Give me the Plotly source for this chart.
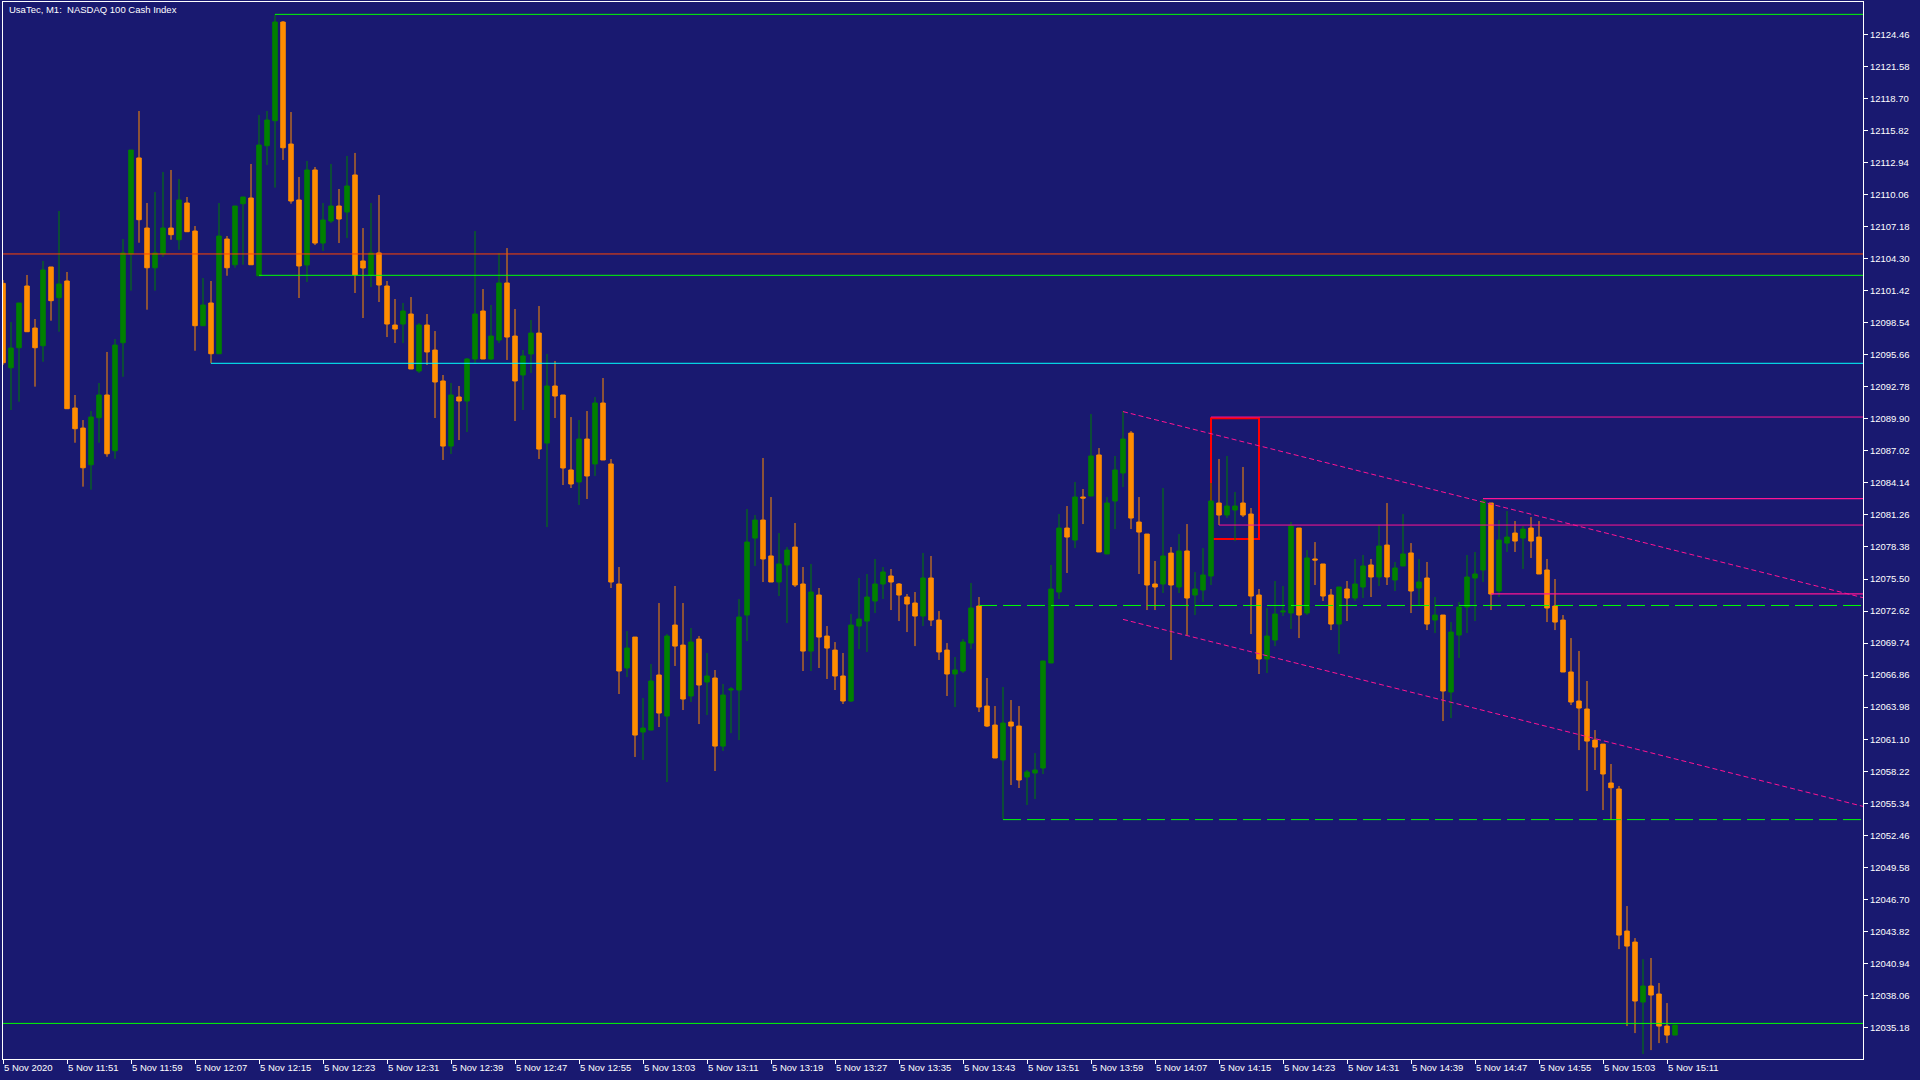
import plotly.graph_objects as go

TITLE = "UsaTec, M1:  NASDAQ 100 Cash Index"

OPEN = [
    12102.08, 12094.49, 12096.29, 12101.84, 12098.06, 12096.47, 12103.55, 12100.79, 12102.29, 12090.87,
    12089.07, 12085.77, 12090.00, 12092.04, 12087.03, 12096.74, 12104.72, 12113.35, 12107.05, 12103.48,
    12104.74, 12107.05, 12106.00, 12109.30, 12106.78, 12098.27, 12100.31, 12095.75, 12106.06, 12103.75,
    12109.24, 12109.75, 12102.76, 12114.45, 12116.70, 12125.57, 12114.60, 12109.57, 12103.73, 12112.27,
    12105.70, 12107.68, 12109.03, 12108.49, 12111.82, 12104.09, 12102.83, 12104.81, 12101.84, 12098.33,
    12098.42, 12099.32, 12094.20, 12098.33, 12096.08, 12093.30, 12087.45, 12091.86, 12091.50, 12095.28,
    12099.59, 12095.28, 12096.98, 12102.11, 12097.34, 12093.84, 12095.73, 12097.61, 12087.72, 12092.85,
    12092.04, 12085.30, 12084.22, 12088.08, 12085.84, 12091.32, 12085.84, 12075.05, 12067.50, 12070.28,
    12061.74, 12061.92, 12066.87, 12063.18, 12071.36, 12069.56, 12064.98, 12070.10, 12066.24, 12066.60,
    12060.48, 12065.52, 12065.52, 12072.26, 12079.18, 12080.80, 12077.57, 12075.23, 12076.76, 12078.37,
    12075.05, 12069.02, 12074.06, 12070.37, 12069.11, 12066.78, 12064.53, 12071.27, 12071.72, 12073.52,
    12075.05, 12075.77, 12075.05, 12073.88, 12073.34, 12072.17, 12075.59, 12071.81, 12069.11, 12066.96,
    12067.23, 12069.74, 12073.07, 12064.08, 12062.37, 12059.23, 12062.64, 12062.28, 12057.70, 12058.06,
    12058.51, 12067.95, 12074.33, 12080.08, 12079.00, 12082.87, 12082.96, 12086.65, 12077.75, 12082.51,
    12085.03, 12088.62, 12080.62, 12079.54, 12075.05, 12075.05, 12077.83, 12074.78, 12078.02, 12074.06,
    12074.51, 12075.77, 12082.33, 12081.25, 12081.70, 12082.33, 12081.34, 12074.06, 12068.31, 12070.01,
    12072.53, 12072.44, 12080.08, 12072.44, 12077.30, 12076.85, 12074.06, 12071.45, 12074.60, 12073.79,
    12074.78, 12076.76, 12075.68, 12078.55, 12075.41, 12076.67, 12077.84, 12074.69, 12075.59, 12071.81,
    12072.26, 12065.34, 12070.46, 12072.98, 12075.59, 12076.31, 12082.33, 12074.42, 12078.73, 12079.63,
    12079.18, 12080.08, 12079.27, 12076.31, 12073.07, 12071.81, 12067.14, 12064.53, 12063.81, 12061.02,
    12060.66, 12057.16, 12056.62, 12043.85, 12042.86, 12037.47, 12038.91, 12038.19, 12035.31, 12034.50,
]

HIGH = [
    12102.38, 12098.60, 12100.31, 12102.83, 12098.87, 12104.09, 12103.55, 12108.58, 12103.10, 12092.04,
    12089.79, 12090.60, 12093.12, 12095.91, 12097.07, 12106.06, 12114.06, 12117.57, 12109.30, 12110.29,
    12112.09, 12112.27, 12111.46, 12109.84, 12107.23, 12102.56, 12102.29, 12109.30, 12106.33, 12109.03,
    12109.84, 12112.81, 12117.21, 12117.57, 12126.26, 12125.66, 12117.48, 12111.64, 12113.08, 12112.54,
    12109.30, 12112.81, 12110.56, 12113.53, 12113.80, 12107.05, 12109.30, 12110.02, 12102.29, 12100.67,
    12100.31, 12100.85, 12098.51, 12099.32, 12097.79, 12093.84, 12093.12, 12092.85, 12095.37, 12106.78,
    12101.57, 12100.13, 12104.81, 12105.25, 12099.77, 12096.08, 12098.78, 12100.04, 12095.73, 12095.10,
    12092.04, 12090.06, 12089.79, 12090.60, 12091.86, 12093.57, 12086.29, 12076.58, 12070.82, 12070.28,
    12064.80, 12067.86, 12073.34, 12070.55, 12074.87, 12073.34, 12071.09, 12070.37, 12068.85, 12067.32,
    12066.06, 12065.79, 12073.70, 12081.79, 12081.25, 12086.38, 12082.87, 12079.63, 12078.37, 12080.53,
    12076.58, 12076.85, 12074.69, 12071.27, 12069.83, 12068.85, 12072.35, 12075.59, 12075.95, 12077.30,
    12076.58, 12076.40, 12075.14, 12074.15, 12074.33, 12077.84, 12077.57, 12072.62, 12069.74, 12068.49,
    12070.10, 12075.14, 12073.88, 12066.60, 12064.08, 12065.79, 12064.62, 12064.08, 12058.33, 12059.85,
    12068.13, 12076.76, 12081.34, 12082.06, 12084.22, 12083.59, 12090.33, 12087.27, 12082.87, 12086.56,
    12090.60, 12088.80, 12082.87, 12079.54, 12077.12, 12083.68, 12078.37, 12079.54, 12080.44, 12076.13,
    12078.28, 12084.13, 12086.29, 12086.56, 12083.32, 12085.57, 12081.88, 12074.60, 12072.89, 12075.32,
    12074.87, 12080.62, 12080.08, 12078.10, 12078.82, 12076.85, 12074.60, 12074.78, 12075.32, 12077.30,
    12077.66, 12077.30, 12080.35, 12082.33, 12077.03, 12081.34, 12078.73, 12077.30, 12077.03, 12073.88,
    12072.26, 12071.63, 12073.43, 12077.66, 12077.93, 12082.69, 12082.33, 12080.80, 12081.61, 12080.71,
    12080.26, 12081.07, 12080.71, 12077.30, 12075.50, 12072.26, 12070.19, 12069.03, 12066.33, 12061.92,
    12060.66, 12058.87, 12056.89, 12046.10, 12043.22, 12041.33, 12041.43, 12039.18, 12037.38, 12035.40,
]

LOW = [
    12094.74, 12090.69, 12091.44, 12097.73, 12092.79, 12095.03, 12098.72, 12097.73, 12090.81, 12087.75,
    12083.80, 12083.53, 12087.75, 12086.49, 12086.31, 12093.68, 12101.42, 12105.73, 12099.71, 12101.42,
    12104.47, 12106.00, 12105.10, 12106.72, 12096.02, 12098.27, 12094.89, 12095.75, 12102.76, 12103.48,
    12103.75, 12103.75, 12102.76, 12112.72, 12110.68, 12113.17, 12109.24, 12100.76, 12102.20, 12105.52,
    12104.99, 12107.50, 12105.70, 12106.15, 12101.21, 12098.96, 12101.75, 12100.40, 12097.25, 12096.71,
    12096.71, 12094.38, 12094.02, 12094.74, 12089.97, 12086.20, 12086.74, 12087.99, 12088.71, 12094.92,
    12095.28, 12095.19, 12096.71, 12095.19, 12089.70, 12090.69, 12094.02, 12086.29, 12080.17, 12089.97,
    12083.95, 12083.68, 12082.15, 12082.69, 12084.76, 12086.20, 12074.69, 12065.16, 12066.69, 12059.50,
    12059.23, 12061.92, 12062.19, 12057.25, 12067.68, 12063.72, 12064.44, 12062.46, 12063.27, 12058.24,
    12060.04, 12061.65, 12061.02, 12069.92, 12076.67, 12075.23, 12075.23, 12073.97, 12071.54, 12074.78,
    12067.23, 12067.23, 12067.50, 12066.51, 12065.52, 12064.26, 12064.44, 12069.20, 12068.94, 12072.44,
    12073.70, 12072.71, 12071.72, 12070.73, 12069.47, 12071.27, 12071.27, 12068.22, 12064.98, 12063.99,
    12067.05, 12069.20, 12063.54, 12062.19, 12059.41, 12053.92, 12056.98, 12056.71, 12055.18, 12055.72,
    12057.97, 12067.95, 12073.70, 12076.04, 12078.28, 12080.44, 12082.96, 12077.93, 12077.75, 12079.99,
    12083.77, 12079.99, 12075.95, 12072.71, 12072.71, 12074.24, 12068.22, 12074.24, 12070.46, 12072.26,
    12073.43, 12074.96, 12080.35, 12080.98, 12078.91, 12081.07, 12070.55, 12066.96, 12067.05, 12069.47,
    12072.17, 12071.00, 12070.19, 12072.26, 12074.96, 12073.52, 12070.91, 12068.76, 12071.72, 12073.52,
    12073.79, 12073.88, 12074.87, 12074.96, 12074.42, 12076.67, 12072.44, 12073.16, 12070.91, 12070.64,
    12062.73, 12063.00, 12068.40, 12070.64, 12071.72, 12075.23, 12072.71, 12073.88, 12077.93, 12077.93,
    12076.40, 12077.39, 12075.95, 12071.63, 12070.91, 12067.14, 12064.17, 12060.12, 12056.44, 12058.33,
    12054.73, 12053.83, 12042.23, 12035.31, 12034.68, 12032.80, 12033.15, 12033.78, 12033.78, 12034.50,
]

CLOSE = [
    12094.94, 12096.26, 12100.31, 12097.73, 12096.29, 12103.28, 12100.52, 12102.02, 12090.81, 12089.01,
    12085.50, 12090.06, 12092.04, 12086.76, 12096.53, 12104.81, 12114.06, 12107.80, 12103.48, 12104.81,
    12107.05, 12106.45, 12109.57, 12106.72, 12098.27, 12100.13, 12095.75, 12106.33, 12103.48, 12109.03,
    12109.84, 12103.75, 12114.51, 12116.76, 12125.57, 12114.27, 12109.48, 12103.64, 12112.27, 12105.70,
    12107.77, 12109.03, 12107.86, 12110.83, 12102.83, 12103.46, 12104.81, 12101.93, 12098.42, 12097.97,
    12099.59, 12094.38, 12098.33, 12095.91, 12093.21, 12087.45, 12092.04, 12091.50, 12095.28, 12099.32,
    12095.28, 12097.34, 12102.11, 12097.25, 12093.30, 12095.55, 12097.61, 12087.18, 12092.85, 12091.95,
    12085.48, 12084.04, 12088.08, 12084.76, 12091.32, 12086.20, 12075.23, 12067.23, 12069.29, 12061.47,
    12062.10, 12066.33, 12063.45, 12070.37, 12069.47, 12064.71, 12069.83, 12065.97, 12066.78, 12060.48,
    12065.07, 12065.61, 12072.08, 12078.82, 12080.80, 12077.30, 12075.23, 12076.85, 12078.10, 12074.96,
    12069.02, 12074.33, 12070.28, 12069.29, 12066.78, 12064.53, 12071.36, 12071.90, 12073.88, 12075.05,
    12076.13, 12075.23, 12074.06, 12073.25, 12072.17, 12075.59, 12071.81, 12068.94, 12066.96, 12067.32,
    12069.83, 12072.89, 12063.99, 12062.28, 12059.41, 12062.55, 12062.28, 12057.43, 12058.15, 12058.33,
    12068.13, 12074.60, 12080.08, 12079.27, 12082.87, 12082.78, 12086.56, 12077.93, 12082.33, 12085.30,
    12088.08, 12080.98, 12079.72, 12074.96, 12074.78, 12077.57, 12074.96, 12078.02, 12073.79, 12074.60,
    12075.86, 12082.51, 12081.25, 12082.06, 12082.06, 12081.25, 12073.97, 12068.31, 12070.37, 12072.35,
    12072.62, 12080.26, 12072.26, 12077.39, 12077.21, 12073.97, 12071.45, 12074.78, 12073.79, 12075.05,
    12076.67, 12075.68, 12078.46, 12075.68, 12076.49, 12077.75, 12074.42, 12075.23, 12071.45, 12072.26,
    12065.43, 12070.73, 12072.98, 12075.68, 12075.95, 12082.51, 12074.15, 12079.00, 12079.27, 12078.91,
    12079.99, 12078.91, 12075.95, 12072.89, 12071.63, 12067.14, 12064.44, 12063.90, 12060.93, 12060.39,
    12057.97, 12056.74, 12043.49, 12042.50, 12037.56, 12038.91, 12038.10, 12035.31, 12034.50, 12035.40,
]

TIME_LABELS = [
    "5 Nov 2020", "5 Nov 11:51", "5 Nov 11:59", "5 Nov 12:07", "5 Nov 12:15", "5 Nov 12:23",
    "5 Nov 12:31", "5 Nov 12:39", "5 Nov 12:47", "5 Nov 12:55", "5 Nov 13:03", "5 Nov 13:11",
    "5 Nov 13:19", "5 Nov 13:27", "5 Nov 13:35", "5 Nov 13:43", "5 Nov 13:51", "5 Nov 13:59",
    "5 Nov 14:07", "5 Nov 14:15", "5 Nov 14:23", "5 Nov 14:31", "5 Nov 14:39", "5 Nov 14:47",
    "5 Nov 14:55", "5 Nov 15:03", "5 Nov 15:11",
]
TIME_LABEL_STEP = 8

PRICE_LABELS = [
    "12124.46", "12121.58", "12118.70", "12115.82", "12112.94", "12110.06", "12107.18", "12104.30",
    "12101.42", "12098.54", "12095.66", "12092.78", "12089.90", "12087.02", "12084.14", "12081.26",
    "12078.38", "12075.50", "12072.62", "12069.74", "12066.86", "12063.98", "12061.10", "12058.22",
    "12055.34", "12052.46", "12049.58", "12046.70", "12043.82", "12040.94", "12038.06", "12035.18",
]

# horizontal levels: start bar index and price
LIME_LEVEL_START = [34, 32]
LIME_LEVEL_PRICE = [12126.26, 12102.80]
CYAN_LEVEL_START = [26]
CYAN_LEVEL_PRICE = [12094.89]
FULL_RED_PRICE = [12104.72]
FULL_LIME_PRICE = [12035.55]
DASHED_LEVEL_START = [122, 125]
DASHED_LEVEL_PRICE = [12073.12, 12053.87]
PINK_THIN_START = [151, 152]
PINK_THIN_PRICE = [12090.06, 12080.35]
PINK_BOX_START = [185, 186]
PINK_BOX_PRICE = [12082.73, 12074.17]
RED_BOX_BARS = [151, 157]
RED_BOX_PRICES = [12079.09, 12089.94]
CHANNEL_BARS = [140, 232.5]
CHANNEL_UPPER = [12090.55, 12073.82]
CHANNEL_LOWER = [12071.87, 12055.06]

X_MIN, X_MAX = 0, 232.5
Y_MIN, Y_MAX = 12032.35, 12127.37

BG = "#191970"
FONT = dict(family="Liberation Sans, Arial, sans-serif", size=9.5, color="white")

x = list(range(len(OPEN)))

fig = go.Figure()
fig.add_trace(go.Candlestick(
    x=x, open=OPEN, high=HIGH, low=LOW, close=CLOSE,
    increasing=dict(line=dict(color="#008000", width=1), fillcolor="#008000"),
    decreasing=dict(line=dict(color="#ff8c00", width=1), fillcolor="#ff8c00"),
    whiskerwidth=0, hoverinfo="skip", showlegend=False,
))


def hline(x0, y, color, width, dash="solid", layer="above"):
    fig.add_shape(type="line", xref="x", yref="y", x0=x0, x1=X_MAX, y0=y, y1=y,
                  line=dict(color=color, width=width, dash=dash), layer=layer)


for s, p in zip(LIME_LEVEL_START, LIME_LEVEL_PRICE):
    hline(s, p, "#00ff00", 1)
for s, p in zip(CYAN_LEVEL_START, CYAN_LEVEL_PRICE):
    hline(s, p, "#00ffff", 1)
for p in FULL_RED_PRICE:
    hline(X_MIN, p, "#ff4500", 1)
for p in FULL_LIME_PRICE:
    hline(X_MIN, p, "#00ff00", 1)
for s, p in zip(DASHED_LEVEL_START, DASHED_LEVEL_PRICE):
    hline(s, p, "#00ff00", 1, dash="18px,6px")
for s, p in zip(PINK_THIN_START, PINK_THIN_PRICE):
    hline(s, p, "#ff1493", 1)
for s, p in zip(PINK_BOX_START, PINK_BOX_PRICE):
    hline(s, p, "#ff1493", 1.3)

fig.add_shape(type="rect", xref="x", yref="y",
              x0=RED_BOX_BARS[0], x1=RED_BOX_BARS[1],
              y0=RED_BOX_PRICES[0], y1=RED_BOX_PRICES[1],
              line=dict(color="#ff0000", width=2), layer="below")

for ys in (CHANNEL_UPPER, CHANNEL_LOWER):
    fig.add_shape(type="line", xref="x", yref="y",
                  x0=CHANNEL_BARS[0], x1=CHANNEL_BARS[1], y0=ys[0], y1=ys[1],
                  line=dict(color="#ff1493", width=1, dash="5px,3px"), layer="above")

fig.add_annotation(text=TITLE, xref="paper", yref="paper", x=0.002, y=0.9925,
                   xanchor="left", yanchor="middle", showarrow=False, font=FONT)

axis_common = dict(showgrid=False, zeroline=False, showline=True, linecolor="white",
                   linewidth=1, mirror=True, ticks="outside", ticklen=4, tickwidth=1,
                   tickcolor="white", tickfont=FONT, automargin=False, fixedrange=True)

fig.update_layout(
    width=1920, height=1080, autosize=False,
    margin=dict(l=3, r=57, t=2, b=21, pad=0),
    paper_bgcolor=BG, plot_bgcolor=BG,
    boxgap=0.25, boxgroupgap=0.25,
    showlegend=False, hovermode=False,
    xaxis=dict(range=[X_MIN, X_MAX], rangeslider=dict(visible=False),
               tickmode="array",
               tickvals=[i * TIME_LABEL_STEP for i in range(len(TIME_LABELS))],
               ticktext=TIME_LABELS, ticklabelposition="outside right", **axis_common),
    yaxis=dict(range=[Y_MIN, Y_MAX], side="right", tickmode="array",
               tickvals=[float(v) for v in PRICE_LABELS], ticktext=PRICE_LABELS,
               **axis_common),
)

fig.write_html("out.html", config={"displayModeBar": False, "staticPlot": True},
               post_script="document.body.style.margin='0';document.body.style.overflow='hidden';")
